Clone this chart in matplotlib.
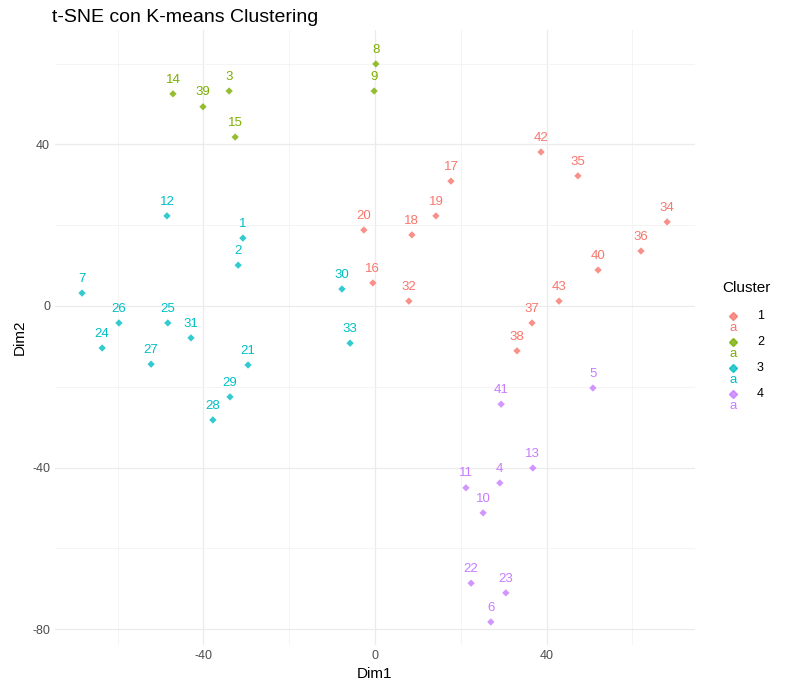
import matplotlib
matplotlib.use("Agg")
import matplotlib.pyplot as plt
from matplotlib.lines import Line2D

plt.rcParams['font.family'] = ['Liberation Sans', 'DejaVu Sans']
plt.rcParams['axes.unicode_minus'] = False

ids = [8,9,14,39,3,15,
       42,35,17,19,34,20,18,36,40,16,32,43,37,38,
       12,1,2,7,30,26,25,31,24,33,27,21,29,28,
       5,41,13,4,11,10,22,23,6]
dim1 = [0.2,-0.2,-47.1,-40.1,-34.0,-32.6,
        38.7,47.3,17.7,14.2,68.1,-2.6,8.6,62.0,52.0,-0.5,7.9,42.9,36.6,33.1,
        -48.5,-30.8,-31.9,-68.3,-7.7,-59.7,-48.3,-42.9,-63.6,-5.8,-52.2,-29.6,-33.8,-37.8,
        50.8,29.4,36.8,29.1,21.2,25.2,22.4,30.5,27.0]
dim2 = [59.9,53.2,52.5,49.3,53.2,41.8,
        38.1,32.2,30.9,22.3,20.8,18.8,17.6,13.6,8.9,5.7,1.2,1.2,-4.2,-11.1,
        22.3,16.8,10.1,3.2,4.2,-4.2,-4.2,-7.9,-10.4,-9.2,-14.4,-14.6,-22.5,-28.2,
        -20.3,-24.3,-40.1,-43.8,-45.0,-51.2,-68.6,-71.0,-78.2]
cluster = [2]*6 + [1]*14 + [3]*14 + [4]*9
colors = {1:"#F8766D", 2:"#7CAE00", 3:"#00BFC4", 4:"#C77CFF"}

fig = plt.figure(figsize=(7.89,7), dpi=100)
ax = fig.add_axes([55/789, 55/700, 640/789, 615/700])
ax.set_facecolor("white")
for s in ax.spines.values():
    s.set_visible(False)
ax.set_xlim(-74.6, 74.6)
ax.set_ylim(-83.9, 68.3)
ax.set_xticks([-40,0,40]); ax.set_yticks([-80,-40,0,40])
ax.set_xticks([-60,-20,20,60], minor=True); ax.set_yticks([-60,-20,20,60], minor=True)
ax.grid(True, which="major", color="#EBEBEB", lw=0.9)
ax.grid(True, which="minor", color="#F3F3F3", lw=0.6)
ax.tick_params(which="both", length=0, colors="#4D4D4D", labelsize=9)
ax.set_axisbelow(True)

for i, x, y, c in zip(ids, dim1, dim2, cluster):
    ax.scatter(x, y, s=14, marker="D", color=colors[c], alpha=0.8, edgecolors="none", zorder=3)
    ax.annotate(str(i), (x, y), xytext=(0, 6), textcoords="offset points",
                ha="center", va="bottom", color=colors[c], fontsize=9.5)

ax.set_xlabel("Dim1", fontsize=11)
ax.set_ylabel("Dim2", fontsize=11)
fig.text(52/789, 1-18/700, "t-SNE con K-means Clustering", fontsize=14, va="center")

fig.text(722/789, 1-288/700, "Cluster", fontsize=11, va="center")
for k, c in enumerate([1,2,3,4]):
    yy = 316 + 26*k
    fig.add_artist(Line2D([733/789],[1-yy/700], marker="D", ms=4, color=colors[c],
                          alpha=0.8, ls="none", transform=fig.transFigure))
    fig.text(733/789, 1-(yy+12)/700, "a", color=colors[c], fontsize=9.5, ha="center", va="center")
    fig.text(757/789, 1-yy/700, str(c), fontsize=9, va="center")

fig.savefig("out.png", dpi=100)
